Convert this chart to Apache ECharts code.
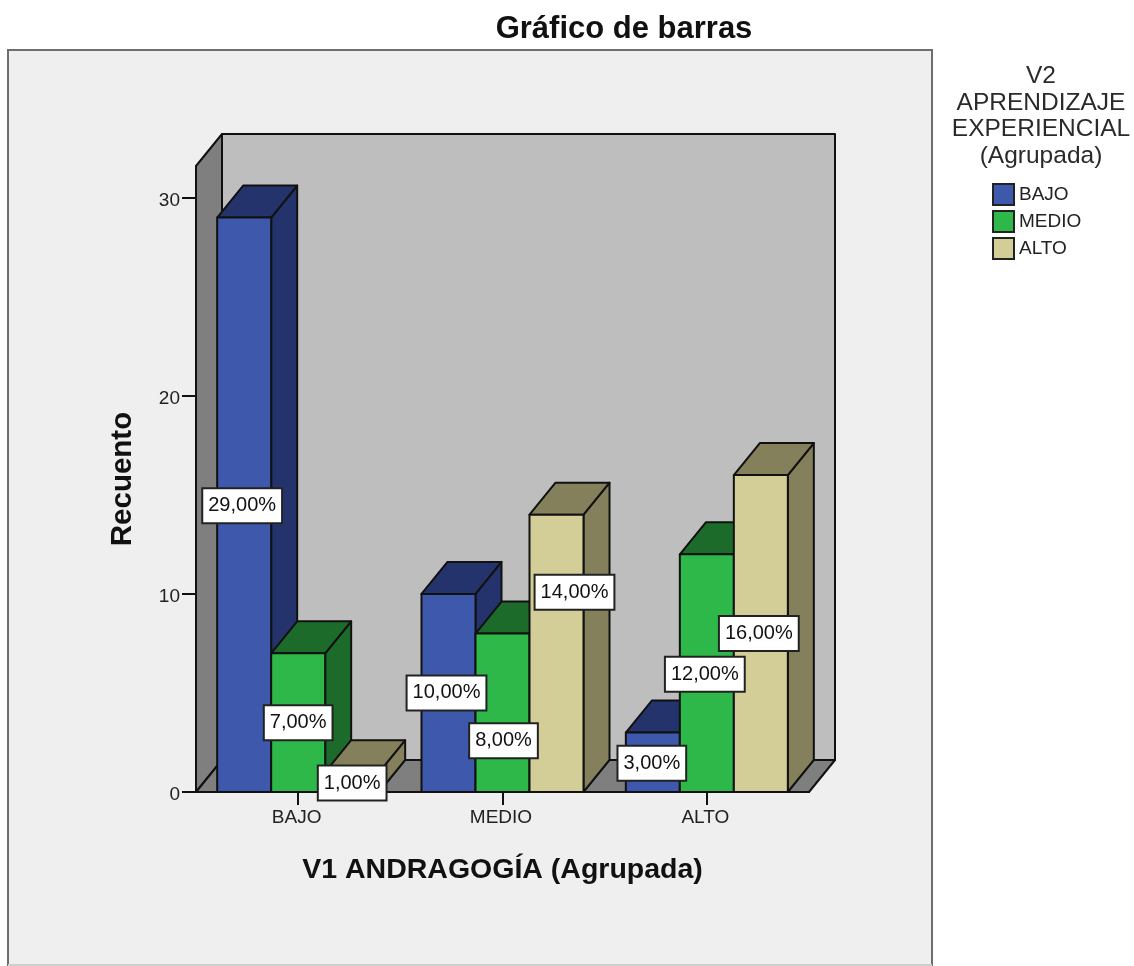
<!DOCTYPE html>
<html>
<head>
<meta charset="utf-8">
<style>html,body{margin:0;padding:0;background:#fff}#c{width:1134px;height:966px}</style>
<script src="https://cdn.jsdelivr.net/npm/echarts@6/dist/echarts.min.js"></script>
</head>
<body>
<div id="c"></div>
<script>
var categories = ['BAJO', 'MEDIO', 'ALTO'];
var seriesNames = ['BAJO', 'MEDIO', 'ALTO'];
var valuesBajo = [29, 10, 3];
var valuesMedio = [7, 8, 12];
var valuesAlto = [1, 14, 16];
var yTicks = [0, 10, 20, 30];

var allValues = [valuesBajo, valuesMedio, valuesAlto];
var frontColors = ['#3E58AC', '#2EB84A', '#D3CE97'];
var darkColors = ['#24336C', '#1D6B2A', '#84805C'];
var DX = 26, DY = 32, BAR = 54 / 204.33;
var LABEL_FONT = '20px "Liberation Sans"';
// hand-placed label shifts in px [dx, dy], by series then category
var nudges = [
  [[-2, 1], [-2, 0], [-1, 1]],
  [[0, 0], [1, 28], [-2, 1]],
  [[0, 1], [18, -61], [-2, 0]]
];

function poly(pts, fill) {
  return {type: 'polygon', shape: {points: pts},
    style: {fill: fill, stroke: '#111', lineWidth: 2, lineJoin: 'round'}};
}

function wallItem(params, api) {
  var c = params.coordSys;
  var l = c.x, r = c.x + c.width, t = c.y, b = c.y + c.height;
  return {type: 'group', children: [
    poly([[l + DX, t - DY], [r + DX, t - DY], [r + DX, b - DY], [l + DX, b - DY]], '#BEBEBE'),
    poly([[l, t], [l + DX, t - DY], [l + DX, b - DY], [l, b]], '#7F7F7F'),
    poly([[l, b], [l + DX, b - DY], [r + DX, b - DY], [r, b]], '#7F7F7F')
  ]};
}

function barItem(s) {
  return function (params, api) {
    var cat = api.value(0), v = api.value(1);
    var band = api.size([1, 0])[0];
    var w = band * BAR;
    var top = api.coord([cat, v]);
    var base = api.coord([cat, 0]);
    var x0 = top[0] + (s - 1.5) * w, x1 = x0 + w;
    var yt = top[1], yb = base[1];
    var n = nudges[s][cat];
    var text = v.toFixed(2).replace('.', ',') + '%';
    return {type: 'group', children: [
      poly([[x1, yt], [x1 + DX, yt - DY], [x1 + DX, yb - DY], [x1, yb]], darkColors[s]),
      poly([[x0, yt], [x0 + DX, yt - DY], [x1 + DX, yt - DY], [x1, yt]], darkColors[s]),
      poly([[x0, yt], [x1, yt], [x1, yb], [x0, yb]], frontColors[s]),
      {type: 'text', z2: 100, x: (x0 + x1) / 2 + n[0], y: (yt + yb) / 2 + n[1],
        style: {text: text, font: LABEL_FONT, fill: '#111', align: 'center', verticalAlign: 'middle',
          backgroundColor: '#fff', borderColor: '#222', borderWidth: 2, padding: [7, 5, 6, 5]}}
    ]};
  };
}

var series = [{
  type: 'custom', name: 'walls', silent: true, clip: false, z: 1,
  renderItem: wallItem, data: [[0, 0]], encode: {x: 0, y: 1}
}];
seriesNames.forEach(function (name, s) {
  series.push({
    type: 'custom', name: name, silent: true, clip: false, z: 2,
    renderItem: barItem(s),
    itemStyle: {color: frontColors[s]},
    encode: {x: 0, y: 1},
    data: categories.map(function (c, i) { return [i, allValues[s][i]]; })
  });
});

var chart = echarts.init(document.getElementById('c'), null, {renderer: 'canvas'});
chart.setOption({
  animation: false,
  backgroundColor: '#fff',
  title: [
    {text: 'Gráfico de barras', left: 619, top: 9, textAlign: 'center',
      textStyle: {fontFamily: 'Liberation Sans', fontSize: 31, fontWeight: 'bold', color: '#111'}},
    {text: 'V2\nAPRENDIZAJE\nEXPERIENCIAL\n(Agrupada)', left: 1036, top: 58, textAlign: 'center',
      textStyle: {fontFamily: 'Liberation Sans', fontSize: 24.5, fontWeight: 'normal', color: '#2a2a2a', lineHeight: 26.5}}
  ],
  graphic: [
    {type: 'rect', z: -1, shape: {x: 8, y: 50, width: 924, height: 915},
      style: {fill: '#EFEFEF', stroke: '#6E6E6E', lineWidth: 2}},
    {type: 'line', z: -1, shape: {x1: 8, y1: 965, x2: 932, y2: 965},
      style: {stroke: '#D0D0D0', lineWidth: 2}}
  ],
  legend: {
    orient: 'vertical', left: 987, top: 178, itemWidth: 21, itemHeight: 21, itemGap: 4,
    data: seriesNames, selectedMode: false, icon: 'rect',
    itemStyle: {borderColor: '#222', borderWidth: 2},
    textStyle: {fontFamily: 'Liberation Sans', fontSize: 19, color: '#222', padding: [3, 0, 0, 0]}
  },
  grid: {left: 196, top: 166, width: 613, height: 626, containLabel: false},
  xAxis: {
    type: 'category', data: categories,
    name: 'V1 ANDRAGOGÍA (Agrupada)', nameLocation: 'middle', nameGap: 64,
    nameTextStyle: {fontFamily: 'Liberation Sans', fontSize: 28.5, fontWeight: 'bold', color: '#111'},
    axisLine: {show: true, lineStyle: {color: '#111', width: 2}},
    axisTick: {show: true, alignWithLabel: true, length: 13, lineStyle: {color: '#111', width: 2}},
    axisLabel: {fontFamily: 'Liberation Sans', fontSize: 19, color: '#222', margin: 16, padding: [0, 3, 0, 0]},
    splitLine: {show: false}
  },
  yAxis: {
    type: 'value', min: 0, max: 31.6, interval: 10,
    name: 'Recuento', nameLocation: 'middle', nameGap: 58,
    nameTextStyle: {fontFamily: 'Liberation Sans', fontSize: 29.5, fontWeight: 'bold', color: '#111'},
    axisLine: {show: true, lineStyle: {color: '#111', width: 2}},
    axisTick: {show: true, length: 14, customValues: yTicks, lineStyle: {color: '#111', width: 2}},
    axisLabel: {fontFamily: 'Liberation Sans', fontSize: 19, color: '#222', margin: 16, customValues: yTicks, verticalAlign: 'top', lineHeight: 6},
    splitLine: {show: false}
  },
  series: series
});
</script>
</body>
</html>
